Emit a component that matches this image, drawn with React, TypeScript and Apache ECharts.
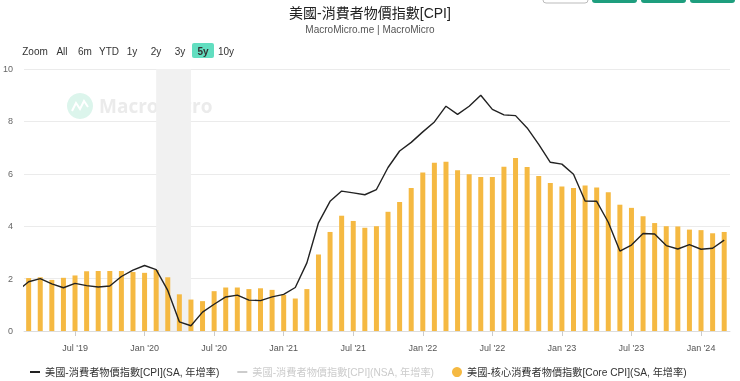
import React, { useEffect, useRef } from 'react';
import * as echarts from 'echarts';

const FONT = '"Liberation Sans", "Noto Sans CJK TC", sans-serif';

// months from Feb 2019 to Mar 2024
const months: string[] = [];
for (let y = 2019, m = 2; y < 2024 || (y === 2024 && m <= 3); ) {
  months.push(`${y}-${String(m).padStart(2, '0')}`);
  m++;
  if (m > 12) { m = 1; y++; }
}

const tickMonths = ['2019-07', '2020-01', '2020-07', '2021-01', '2021-07', '2022-01', '2022-07', '2023-01', '2023-07', '2024-01'];
const tickLabels = ["Jul '19", "Jan '20", "Jul '20", "Jan '21", "Jul '21", "Jan '22", "Jul '22", "Jan '23", "Jul '23", "Jan '24"];

const cpiSA = [1.52,
  1.88, 2.0, 1.8, 1.65, 1.82, 1.73, 1.68, 1.72, 2.08, 2.32,
  2.5, 2.34, 1.55, 0.35, 0.2, 0.72, 1.02, 1.3, 1.37, 1.18, 1.16, 1.3,
  1.4, 1.66, 2.6, 4.13, 4.95, 5.34, 5.27, 5.2, 5.4, 6.24, 6.87, 7.2,
  7.6, 7.98, 8.58, 8.27, 8.58, 9.0, 8.46, 8.25, 8.22, 7.75, 7.12, 6.44,
  6.37, 5.98, 4.96, 4.95, 4.15, 3.05, 3.28, 3.72, 3.7, 3.26, 3.13, 3.3,
  3.12, 3.16, 3.47];

const coreCPI = [null,
  2.02, 2.05, 1.95, 2.03, 2.12, 2.28, 2.29, 2.29, 2.29, 2.25,
  2.22, 2.33, 2.05, 1.4, 1.2, 1.14, 1.52, 1.66, 1.66, 1.6, 1.63, 1.57,
  1.38, 1.24, 1.6, 2.92, 3.78, 4.4, 4.2, 3.94, 4.0, 4.55, 4.92, 5.46,
  6.05, 6.42, 6.46, 6.14, 5.98, 5.88, 5.88, 6.27, 6.6, 6.26, 5.92, 5.65,
  5.52, 5.46, 5.55, 5.48, 5.3, 4.82, 4.7, 4.38, 4.12, 4.0, 3.99, 3.87,
  3.85, 3.73, 3.78];

const recession = ['2020-02', '2020-05'];

const rangeButtons = ['Zoom', 'All', '6m', 'YTD', '1y', '2y', '3y', '5y', '10y'];
const rangeX = [35, 62, 85, 109, 132, 156, 180, 203, 226];

const S1 = '美國-消費者物價指數[CPI](SA, 年增率)';
const S2 = '美國-消費者物價指數[CPI](NSA, 年增率)';
const S3 = '美國-核心消費者物價指數[Core CPI](SA, 年增率)';

const DASH_ICON = 'path://M0,0L0,0ZM0,4L10,4L10,6L0,6ZM0,10L0,10Z';

export default function App() {
  const ref = useRef<HTMLDivElement>(null);
  useEffect(() => {
    if (!ref.current) return;
    const chart = echarts.init(ref.current, undefined, { renderer: 'svg' });
    const tickIdx = tickMonths.map((m) => months.indexOf(m));
    const labelMap: Record<number, string> = {};
    tickIdx.forEach((i, k) => { labelMap[i] = tickLabels[k]; });

    const graphics: any[] = [];
    // top-right buttons (partially visible)
    graphics.push({ type: 'rect', shape: { x: 543, y: -8, width: 45, height: 11, r: 3 }, style: { fill: '#fff', stroke: '#bbb', lineWidth: 1 }, z: 10 });
    [592, 641, 690].forEach((x) => graphics.push({ type: 'rect', shape: { x, y: -8, width: 45, height: 11, r: 3 }, style: { fill: '#1e9e7e' }, z: 10 }));
    // range selector
    graphics.push({ type: 'rect', shape: { x: 192, y: 43, width: 22, height: 15, r: 2 }, style: { fill: '#62dec0' }, z: 10 });
    rangeButtons.forEach((t, i) => graphics.push({
      type: 'text', x: rangeX[i], y: 51, z: 11,
      style: { text: t, fontSize: 10, fontFamily: FONT, fill: '#333', fontWeight: t === '5y' ? 'bold' : 'normal', align: 'center', verticalAlign: 'middle' },
    }));
    // watermark
    graphics.push({ type: 'circle', shape: { cx: 80, cy: 106, r: 13 }, style: { fill: '#dcf5ec' }, z: 0 });
    graphics.push({ type: 'polyline', shape: { points: [[72, 111], [76, 103], [80, 109], [84, 101], [88, 107]] }, style: { stroke: '#fff', lineWidth: 2, fill: 'none' }, z: 0 });
    graphics.push({ type: 'text', x: 99, y: 106, z: 0, style: { text: 'MacroMicro', fontSize: 19, fontWeight: 'bold', fontFamily: '"Open Sans", sans-serif', fill: '#ebebeb', verticalAlign: 'middle' } });

    chart.setOption({
      animation: false,
      title: {
        text: '美國-消費者物價指數[CPI]',
        subtext: 'MacroMicro.me | MacroMicro',
        left: 'center',
        top: 1,
        itemGap: 5,
        textStyle: { fontSize: 14, fontWeight: 'normal', color: '#222', fontFamily: FONT },
        subtextStyle: { fontSize: 10, color: '#555', fontFamily: FONT },
      },
      legend: {
        left: 25,
        top: 362,
        itemWidth: 10,
        itemHeight: 10,
        itemGap: 18,
        textStyle: { fontSize: 10.2, color: '#333', fontFamily: FONT },
        inactiveColor: '#ccc',
        itemStyle: { borderWidth: 0 },
        data: [{ name: S1, icon: DASH_ICON }, { name: S2, icon: DASH_ICON }, { name: S3, icon: 'circle' }],
        selected: { [S2]: false },
      },
      graphic: graphics,
      grid: { left: 24, right: 10, top: 69, bottom: 50 },
      xAxis: {
        type: 'value',
        min: 0.6,
        max: 61.5,
        splitLine: { show: false },
        axisLine: { show: true, lineStyle: { color: '#ddd' } },
        axisTick: { show: true, customValues: tickIdx, length: 5, lineStyle: { color: '#ccc' } },
        axisLabel: {
          customValues: tickIdx,
          formatter: (v: number) => labelMap[Math.round(v)] ?? '',
          fontSize: 9, color: '#555', fontFamily: FONT, margin: 12,
        },
      },
      yAxis: {
        type: 'value',
        min: 0,
        max: 10,
        interval: 2,
        axisLabel: { fontSize: 9, color: '#666', fontFamily: FONT, margin: 11 },
        splitLine: { lineStyle: { color: '#ebebeb' } },
        axisLine: { show: false },
        axisTick: { show: false },
      },
      series: [
        {
          name: S3,
          type: 'bar',
          barWidth: 5,
          itemStyle: { color: '#f5b942' },
          data: coreCPI.map((v, i) => [i, v]),
          z: 2,
          markArea: {
            silent: true,
            itemStyle: { color: '#f1f1f1' },
            data: [[{ xAxis: months.indexOf(recession[0]) }, { xAxis: months.indexOf(recession[1]) }]],
          },
        },
        {
          name: S1,
          type: 'line',
          symbol: 'none',
          color: '#222',
          lineStyle: { width: 1.4, color: '#222' },
          data: cpiSA.map((v, i) => [i, v]),
          z: 3,
        },
        {
          name: S2,
          type: 'line',
          symbol: 'none',
          color: '#ccc',
          lineStyle: { width: 1.4 },
          data: [],
        },
      ],
    });
    return () => chart.dispose();
  }, []);
  return <div ref={ref} style={{ position: 'fixed', left: 0, top: 0, width: 740, height: 381 }} />;
}
